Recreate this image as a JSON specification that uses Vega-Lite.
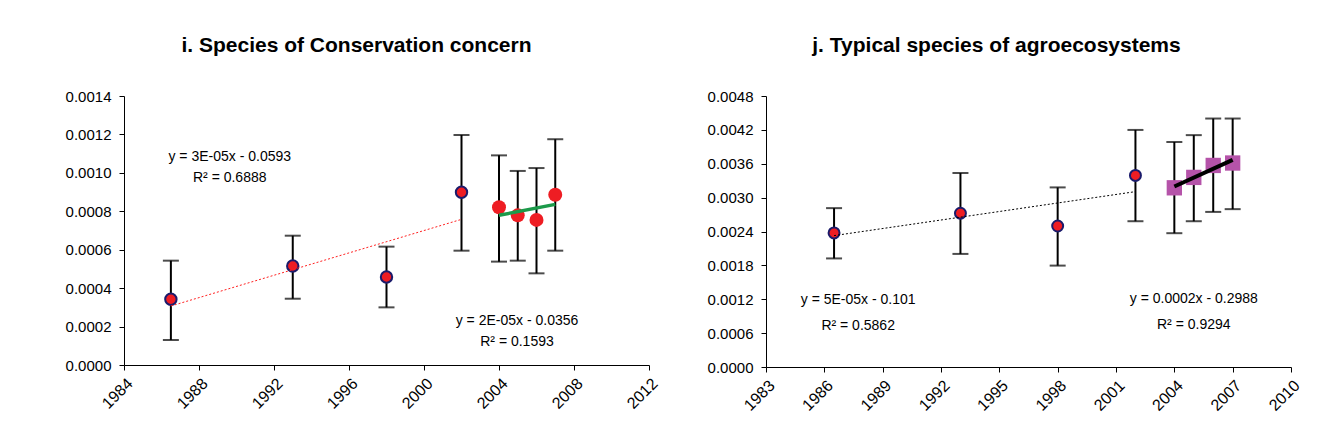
{
  "$schema": "https://vega.github.io/schema/vega-lite/v6.json",
  "background": "white",
  "padding": {"left": 65, "top": 35, "right": 0, "bottom": 0},
  "spacing": 46,
  "config": {
    "view": {"stroke": null},
    "font": "Liberation Sans",
    "axis": {"domainColor": "black", "tickColor": "black", "labelColor": "black", "labelFont": "Liberation Sans", "labelFontSize": 15, "grid": false, "tickSize": 5, "labelPadding": 8, "title": null, "labelFlush": false, "labelOverlap": false},
    "axisX": {"labelAngle": -45, "labelPadding": 5, "labelFontSize": 16},
    "title": {"font": "Liberation Sans", "fontSize": 21, "fontWeight": "bold", "color": "black", "anchor": "middle"}
  },
  "datasets": {
    "left": [
      {"year": 1986.5, "value": 0.000342, "lo": 0.000130, "hi": 0.000543, "grp": "a"},
      {"year": 1993, "value": 0.000515, "lo": 0.000345, "hi": 0.000673, "grp": "a"},
      {"year": 1998, "value": 0.000458, "lo": 0.000300, "hi": 0.000616, "grp": "a"},
      {"year": 2002, "value": 0.000899, "lo": 0.000595, "hi": 0.001197, "grp": "a"},
      {"year": 2004, "value": 0.000821, "lo": 0.000538, "hi": 0.001091, "grp": "b"},
      {"year": 2005, "value": 0.000779, "lo": 0.000543, "hi": 0.001010, "grp": "b"},
      {"year": 2006, "value": 0.000755, "lo": 0.000477, "hi": 0.001025, "grp": "b"},
      {"year": 2007, "value": 0.000886, "lo": 0.000595, "hi": 0.001175, "grp": "b"}
    ],
    "leftTrend": [
      {"year": 1986.5, "value": 0.000307, "grp": "a"},
      {"year": 2002, "value": 0.000758, "grp": "a"},
      {"year": 2004, "value": 0.000779, "grp": "b"},
      {"year": 2007, "value": 0.000836, "grp": "b"}
    ],
    "leftText": [
      {"year": 1989.64, "value": 0.001084, "t": "y = 3E-05x - 0.0593"},
      {"year": 1989.64, "value": 0.000973, "t": "R² = 0.6888"},
      {"year": 2004.96, "value": 0.000229, "t": "y = 2E-05x - 0.0356"},
      {"year": 2004.96, "value": 0.000120, "t": "R² = 0.1593"}
    ],
    "right": [
      {"year": 1986.5, "value": 0.002375, "lo": 0.001923, "hi": 0.002814, "grp": "a"},
      {"year": 1993, "value": 0.002724, "lo": 0.002003, "hi": 0.003436, "grp": "a"},
      {"year": 1998, "value": 0.002497, "lo": 0.001796, "hi": 0.003181, "grp": "a"},
      {"year": 2002, "value": 0.003393, "lo": 0.002582, "hi": 0.004199, "grp": "a"},
      {"year": 2004, "value": 0.003174, "lo": 0.002370, "hi": 0.003985, "grp": "b"},
      {"year": 2005, "value": 0.003358, "lo": 0.002582, "hi": 0.004107, "grp": "b"},
      {"year": 2006, "value": 0.003570, "lo": 0.002747, "hi": 0.004401, "grp": "b"},
      {"year": 2007, "value": 0.003613, "lo": 0.002796, "hi": 0.004401, "grp": "b"}
    ],
    "rightTrend": [
      {"year": 1986.5, "value": 0.002327, "grp": "a"},
      {"year": 2002, "value": 0.003106, "grp": "a"},
      {"year": 2004, "value": 0.003198, "grp": "b"},
      {"year": 2007, "value": 0.003668, "grp": "b"}
    ],
    "rightText": [
      {"year": 1987.74, "value": 0.001187, "t": "y = 5E-05x - 0.101"},
      {"year": 1987.74, "value": 0.000730, "t": "R² = 0.5862"},
      {"year": 2005.0, "value": 0.001198, "t": "y = 0.0002x - 0.2988"},
      {"year": 2005.0, "value": 0.000741, "t": "R² = 0.9294"}
    ]
  },
  "hconcat": [
    {
      "width": 525,
      "height": 269,
      "title": {"text": "i. Species of Conservation concern", "dx": -30, "offset": 33},
      "encoding": {
        "x": {"field": "year", "type": "quantitative", "scale": {"domain": [1984, 2012], "nice": false, "zero": false}, "axis": {"values": [1984, 1988, 1992, 1996, 2000, 2004, 2008, 2012], "format": "d"}},
        "y": {"field": "value", "type": "quantitative", "scale": {"domain": [0, 0.0014], "nice": false}, "axis": {"values": [0, 0.0002, 0.0004, 0.0006, 0.0008, 0.001, 0.0012, 0.0014], "format": ".4f"}}
      },
      "layer": [
        {"data": {"name": "left"}, "mark": {"type": "rule", "color": "black", "strokeWidth": 2}, "encoding": {"y": {"field": "lo", "type": "quantitative"}, "y2": {"field": "hi"}}},
        {"data": {"name": "left"}, "mark": {"type": "tick", "orient": "horizontal", "color": "black", "thickness": 2, "size": 16}, "encoding": {"y": {"field": "lo", "type": "quantitative"}}},
        {"data": {"name": "left"}, "mark": {"type": "tick", "orient": "horizontal", "color": "black", "thickness": 2, "size": 16}, "encoding": {"y": {"field": "hi", "type": "quantitative"}}},
        {"data": {"name": "left"}, "transform": [{"filter": "datum.grp === 'a'"}], "mark": {"type": "circle", "size": 130, "fill": "#ee1d23", "stroke": "#1b1b6b", "strokeWidth": 2, "opacity": 1}},
        {"data": {"name": "left"}, "transform": [{"filter": "datum.grp === 'b'"}], "mark": {"type": "circle", "size": 195, "fill": "#ee1d23", "opacity": 1}},
        {"data": {"name": "leftTrend"}, "transform": [{"filter": "datum.grp === 'a'"}], "mark": {"type": "line", "color": "#ff2020", "strokeWidth": 1, "strokeDash": [2, 2]}},
        {"data": {"name": "leftTrend"}, "transform": [{"filter": "datum.grp === 'b'"}], "mark": {"type": "line", "color": "#1c9a4a", "strokeWidth": 3.5}},
        {"data": {"name": "leftText"}, "mark": {"type": "text", "font": "Liberation Sans", "fontSize": 14, "color": "black", "align": "center", "baseline": "middle"}, "encoding": {"text": {"field": "t"}}}
      ]
    },
    {
      "width": 525,
      "height": 271,
      "title": {"text": "j. Typical species of agroecosystems", "dx": -32, "offset": 33},
      "encoding": {
        "x": {"field": "year", "type": "quantitative", "scale": {"domain": [1983, 2010], "nice": false, "zero": false}, "axis": {"values": [1983, 1986, 1989, 1992, 1995, 1998, 2001, 2004, 2007, 2010], "format": "d"}},
        "y": {"field": "value", "type": "quantitative", "scale": {"domain": [0, 0.0048], "nice": false}, "axis": {"values": [0, 0.0006, 0.0012, 0.0018, 0.0024, 0.003, 0.0036, 0.0042, 0.0048], "format": ".4f"}}
      },
      "layer": [
        {"data": {"name": "right"}, "mark": {"type": "rule", "color": "black", "strokeWidth": 2}, "encoding": {"y": {"field": "lo", "type": "quantitative"}, "y2": {"field": "hi"}}},
        {"data": {"name": "right"}, "mark": {"type": "tick", "orient": "horizontal", "color": "black", "thickness": 2, "size": 16}, "encoding": {"y": {"field": "lo", "type": "quantitative"}}},
        {"data": {"name": "right"}, "mark": {"type": "tick", "orient": "horizontal", "color": "black", "thickness": 2, "size": 16}, "encoding": {"y": {"field": "hi", "type": "quantitative"}}},
        {"data": {"name": "right"}, "transform": [{"filter": "datum.grp === 'a'"}], "mark": {"type": "circle", "size": 120, "fill": "#ee1d23", "stroke": "#1b1b6b", "strokeWidth": 2, "opacity": 1}},
        {"data": {"name": "right"}, "transform": [{"filter": "datum.grp === 'b'"}], "mark": {"type": "square", "size": 235, "fill": "#b553a9", "opacity": 1}},
        {"data": {"name": "rightTrend"}, "transform": [{"filter": "datum.grp === 'a'"}], "mark": {"type": "line", "color": "black", "strokeWidth": 1, "strokeDash": [2, 2]}},
        {"data": {"name": "rightTrend"}, "transform": [{"filter": "datum.grp === 'b'"}], "mark": {"type": "line", "color": "black", "strokeWidth": 4}},
        {"data": {"name": "rightText"}, "mark": {"type": "text", "font": "Liberation Sans", "fontSize": 14, "color": "black", "align": "center", "baseline": "middle"}, "encoding": {"text": {"field": "t"}}}
      ]
    }
  ]
}
